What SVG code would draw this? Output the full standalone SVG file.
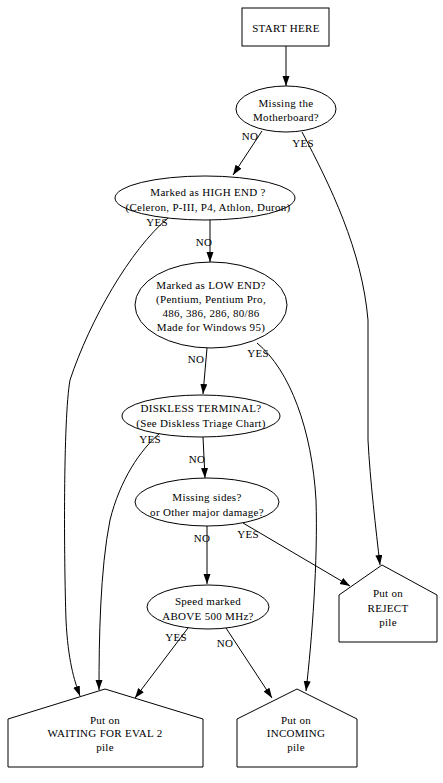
<svg xmlns="http://www.w3.org/2000/svg" width="443" height="783" viewBox="0 0 443 783">
<style>
text{font-family:"Liberation Serif","Times New Roman",serif;font-size:11px;letter-spacing:0.3px;text-anchor:middle;fill:#000}
.n{fill:#fff;stroke:#000;stroke-width:1}
.e{fill:none;stroke:#000;stroke-width:1;marker-end:url(#ah)}
</style>
<defs>
<marker id="ah" markerUnits="userSpaceOnUse" markerWidth="11" markerHeight="8" refX="10" refY="3.5" orient="auto">
<path d="M0,0 L10,3.5 L0,7 z" fill="#000"/>
</marker>
</defs>
<rect width="443" height="783" fill="#fff"/>
<g id="connectors">
<path class="e" d="M286,46 L286,86"/>
<path class="e" d="M262,131 L233,175"/>
<path class="e" d="M302,132 C330,185 362,250 368,320 L368,440 C370,480 376,530 380,565"/>
<path class="e" d="M210,219 L210,262"/>
<path class="e" d="M168,218 C130,250 90,320 70,380 C63,420 64,560 66,620 C68,660 74,680 80,696"/>
<path class="e" d="M207,348 L203,394"/>
<path class="e" d="M257,343 C290,370 312,430 316,500 C318,560 312,640 306,691"/>
<path class="e" d="M203,437 L205,478"/>
<path class="e" d="M160,433 C140,450 120,480 110,520 C100,570 99,640 99,690"/>
<path class="e" d="M207,526 L207,584"/>
<path class="e" d="M243,523 L350,586"/>
<path class="e" d="M188,628 L135,698"/>
<path class="e" d="M226,628 L272,698"/>
<text x="250" y="140">NO</text>
<text x="303" y="147">YES</text>
<text x="157" y="226">YES</text>
<text x="204" y="246">NO</text>
<text x="196" y="363">NO</text>
<text x="258" y="357">YES</text>
<text x="150" y="443">YES</text>
<text x="197" y="463">NO</text>
<text x="202" y="542">NO</text>
<text x="248" y="538">YES</text>
<text x="176" y="641">YES</text>
<text x="225" y="647">NO</text>
</g>
<g id="start">
<rect class="n" x="242" y="8" width="87" height="38"/>
<text x="286" y="32">START HERE</text>
</g>
<g id="motherboard">
<ellipse class="n" cx="286" cy="109" rx="50" ry="23"/>
<text x="286" y="107">Missing the</text>
<text x="286" y="121">Motherboard?</text>
</g>
<g id="highend">
<ellipse class="n" cx="205" cy="198" rx="90" ry="22"/>
<text x="208" y="196">Marked as HIGH END ?</text>
<text x="208" y="211">(Celeron, P-III, P4, Athlon, Duron)</text>
</g>
<g id="lowend">
<ellipse class="n" cx="211" cy="305" rx="76" ry="43"/>
<text x="211" y="289">Marked as LOW END?</text>
<text x="211" y="303">(Pentium, Pentium Pro,</text>
<text x="211" y="317">486, 386, 286, 80/86</text>
<text x="211" y="331">Made for Windows 95)</text>
</g>
<g id="diskless">
<ellipse class="n" cx="201" cy="416" rx="79" ry="21"/>
<text x="201" y="412">DISKLESS TERMINAL?</text>
<text x="201" y="427">(See Diskless Triage Chart)</text>
</g>
<g id="missingsides">
<ellipse class="n" cx="207" cy="502" rx="72" ry="24"/>
<text x="207" y="501">Missing sides?</text>
<text x="207" y="516">or Other major damage?</text>
</g>
<g id="speed">
<ellipse class="n" cx="208" cy="607" rx="61" ry="22"/>
<text x="208" y="605">Speed marked</text>
<text x="208" y="620">ABOVE 500 MHz?</text>
</g>
<g id="waiting">
<polygon class="n" points="8,719 105,689 203,719 203,767 8,767"/>
<text x="105" y="724">Put on</text>
<text x="105" y="737">WAITING FOR EVAL 2</text>
<text x="105" y="751">pile</text>
</g>
<g id="incoming">
<polygon class="n" points="237,719 297,689 357,719 357,767 237,767"/>
<text x="296" y="724">Put on</text>
<text x="296" y="737">INCOMING</text>
<text x="296" y="751">pile</text>
</g>
<g id="reject">
<polygon class="n" points="339,595 382,565 437,595 437,642 339,642"/>
<text x="388" y="597">Put on</text>
<text x="388" y="612">REJECT</text>
<text x="388" y="626">pile</text>
</g>
</svg>
